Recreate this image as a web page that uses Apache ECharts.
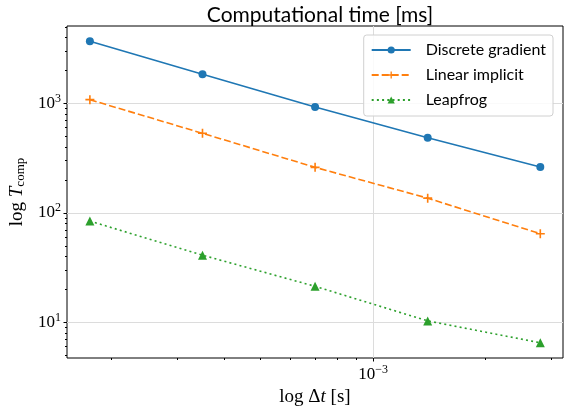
<!DOCTYPE html>
<html>
<head>
<meta charset="utf-8">
<script src="https://cdn.jsdelivr.net/npm/echarts@6/dist/echarts.min.js"></script>
<style>
html,body{margin:0;padding:0;background:#fff;}
#chart{width:565px;height:414px;}
</style>
</head>
<body>
<div id="chart"></div>
<script>
// Data
var dtValues = [1.75e-4, 3.5e-4, 7.0e-4, 1.4e-3, 2.8e-3];
var discreteGradient = [3680, 1842, 925, 485, 262];
var linearImplicit = [1079, 532, 260, 136, 64.4];
var leapfrog = [84, 41, 21.3, 10.3, 6.5];
var seriesNames = ['Discrete gradient', 'Linear implicit', 'Leapfrog'];

// Axis ticks
var xMajorTicks = [1e-3];
var xMinorTicks = [2e-4, 3e-4, 4e-4, 5e-4, 6e-4, 7e-4, 8e-4, 9e-4, 2e-3, 3e-3];
var yMajorTicks = [10, 100, 1000];
var yMinorTicks = [5, 6, 7, 8, 9, 20, 30, 40, 50, 60, 70, 80, 90,
                   200, 300, 400, 500, 600, 700, 800, 900, 2000, 3000, 4000, 5000];
var xRange = [1.52e-4, 3.22e-3];
var yRange = [4.72, 5080];

var serifFont = 'Liberation Serif';
var sansFont = 'Lato';

function pow10Label(v) {
  var n = Math.round(Math.log10(v));
  var s = n < 0 ? '\u2212' + Math.abs(n) : String(n);
  return '{b|10}{s|' + s + '}';
}
var labelRich = {
  b: {fontFamily: serifFont, fontSize: 17, color: '#000'},
  s: {fontFamily: serifFont, fontSize: 12, color: '#000', padding: [0, 0, 9, 0]}
};

function pts(ys) { return dtValues.map(function (x, i) { return [x, ys[i]]; }); }

var plusPath = 'path://M-0.09,-0.5L0.09,-0.5L0.09,-0.09L0.5,-0.09L0.5,0.09L0.09,0.09L0.09,0.5L-0.09,0.5L-0.09,0.09L-0.5,0.09L-0.5,-0.09L-0.09,-0.09Z';

var chart = echarts.init(document.getElementById('chart'), null, {renderer: 'canvas'});
var option = {
  animation: false,
  backgroundColor: '#fff',
  title: {
    text: 'Computational time [ms]',
    left: 315, top: 0, textAlign: 'center',
    textStyle: {fontFamily: sansFont, fontSize: 21, fontWeight: 'normal', color: '#000'}
  },
  grid: {left: 67, right: 2, top: 26, bottom: 56, show: true, borderColor: '#000', borderWidth: 1,
         containLabel: false, outerBoundsMode: 'none'},
  legend: {
    orient: 'vertical', right: 12, top: 35,
    data: seriesNames,
    itemWidth: 39, itemHeight: 9, itemGap: 9,
    padding: [7, 7, 8, 7],
    borderColor: '#d0d0d0', borderWidth: 1, borderRadius: 3,
    backgroundColor: 'rgba(255,255,255,0.85)',
    textStyle: {fontFamily: sansFont, fontSize: 16, color: '#000', padding: [0, 0, 0, 10]}
  },
  xAxis: [{
    type: 'log', min: xRange[0], max: xRange[1],
    name: '{n|log }{d|\u0394}{i|t}{n| [s]}', nameLocation: 'middle', nameGap: 27,
    nameTextStyle: {rich: {
      n: {fontFamily: serifFont, fontSize: 19, color: '#000'},
      d: {fontFamily: serifFont, fontSize: 19, color: '#000'},
      i: {fontFamily: serifFont, fontSize: 19, fontStyle: 'italic', color: '#000'}
    }},
    axisLine: {show: false},
    axisTick: {show: true, inside: false, length: 3.5, lineStyle: {color: '#000', width: 1}, customValues: xMajorTicks},
    axisLabel: {show: true, margin: 6, customValues: xMajorTicks, formatter: pow10Label, rich: labelRich},
    splitLine: {show: true, lineStyle: {color: '#dcdcdc', width: 1}},
    minorTick: {show: false}
  }, {
    type: 'log', min: xRange[0], max: xRange[1], position: 'bottom',
    axisLine: {show: false},
    axisTick: {show: true, length: 2, lineStyle: {color: '#000', width: 1}, customValues: xMinorTicks},
    axisLabel: {show: false},
    splitLine: {show: false}
  }],
  yAxis: [{
    type: 'log', min: yRange[0], max: yRange[1],
    name: '{n|log }{i|T}{sub|comp}', nameLocation: 'middle', nameGap: 39, nameRotate: 90,
    nameTextStyle: {rich: {
      n: {fontFamily: serifFont, fontSize: 19, color: '#000'},
      i: {fontFamily: serifFont, fontSize: 19, fontStyle: 'italic', color: '#000'},
      sub: {fontFamily: serifFont, fontSize: 13, color: '#000', padding: [7, 0, 0, 0]}
    }},
    axisLine: {show: false},
    axisTick: {show: true, length: 3.5, lineStyle: {color: '#000', width: 1}, customValues: yMajorTicks},
    axisLabel: {show: true, margin: 6, customValues: yMajorTicks, formatter: pow10Label, rich: labelRich},
    splitLine: {show: true, lineStyle: {color: '#dcdcdc', width: 1}}
  }, {
    type: 'log', min: yRange[0], max: yRange[1], position: 'left',
    axisLine: {show: false},
    axisTick: {show: true, length: 2, lineStyle: {color: '#000', width: 1}, customValues: yMinorTicks},
    axisLabel: {show: false},
    splitLine: {show: false}
  }],
  series: [{
    name: seriesNames[0], type: 'line', xAxisIndex: 0, yAxisIndex: 0,
    data: pts(discreteGradient),
    symbol: 'circle', symbolSize: 8,
    lineStyle: {color: '#1f77b4', width: 1.6, type: 'solid'},
    itemStyle: {color: '#1f77b4'}
  }, {
    name: seriesNames[1], type: 'line', xAxisIndex: 0, yAxisIndex: 0,
    data: pts(linearImplicit),
    symbol: plusPath, symbolSize: 9,
    lineStyle: {color: '#ff7f0e', width: 1.6, type: [7, 3]},
    itemStyle: {color: '#ff7f0e'}
  }, {
    name: seriesNames[2], type: 'line', xAxisIndex: 0, yAxisIndex: 0,
    data: pts(leapfrog),
    symbol: 'triangle', symbolSize: 9,
    lineStyle: {color: '#2ca02c', width: 1.6, type: [2, 3.2]},
    itemStyle: {color: '#2ca02c'}
  }]
};
chart.setOption(option);
</script>
</body>
</html>
